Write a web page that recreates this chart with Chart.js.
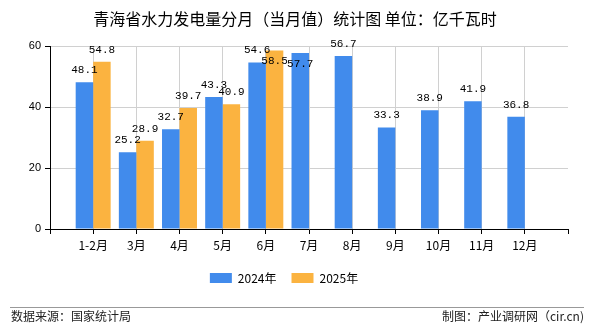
<!DOCTYPE html>
<html>
<head>
<meta charset="utf-8">
<script src="https://cdn.jsdelivr.net/npm/chart.js@4"></script>
<style>
  body { margin: 0; background: #fff; }
  #wrap { position: relative; width: 590px; height: 330px; overflow: hidden; }
  #chart { position: absolute; left: 0; top: 0; }
  .txt { position: absolute; font-family: "Noto Sans CJK SC", sans-serif; color: #222; white-space: nowrap; }
  #title { top: 8px; left: 0; width: 590px; text-align: center; font-size: 16px; line-height: 20px; color: #000; }
  #rule { position: absolute; left: 10px; top: 307px; width: 574px; height: 1px; background: #999; }
  #src { left: 11px; top: 308px; font-size: 12px; line-height: 16px; }
  #made { right: 6px; top: 308px; font-size: 12px; line-height: 16px; }
</style>
</head>
<body>
<div id="wrap">
  <canvas id="chart" width="590" height="330"></canvas>
  <div id="title" class="txt">青海省水力发电量分月（当月值）统计图 单位：亿千瓦时</div>
  <div id="rule"></div>
  <div id="src" class="txt">数据来源：国家统计局</div>
  <div id="made" class="txt">制图：产业调研网（cir.cn)</div>
</div>
<script>
// blank slots at both ends so the bars sit on the ticks
const months = ["", "1-2月", "3月", "4月", "5月", "6月", "7月", "8月", "9月", "10月", "11月", "12月", ""];
const y2024 = [null, 48.1, 25.2, 32.7, 43.3, 54.6, 57.7, 56.7, 33.3, 38.9, 41.9, 36.8, null];
const y2025 = [null, 54.8, 28.9, 39.7, 40.9, 58.5, null, null, null, null, null, null, null];
const yTicks = [0, 20, 40, 60];

const barLabels = {
  id: "barLabels",
  afterDatasetsDraw(chart) {
    const ctx = chart.ctx;
    ctx.save();
    ctx.font = "11px 'Liberation Mono', monospace";
    ctx.fillStyle = "#000";
    ctx.textAlign = "center";
    ctx.textBaseline = "middle";
    chart.data.datasets.forEach((ds, i) => {
      chart.getDatasetMeta(i).data.forEach((bar, j) => {
        const v = ds.data[j];
        if (v == null) return;
        let y = bar.y - 12;
        if (y < 44) y = bar.y + 11;
        ctx.fillText(v.toFixed(1), bar.x, y);
      });
    });
    ctx.restore();
  }
};

new Chart(document.getElementById("chart"), {
  type: "bar",
  data: {
    labels: months,
    datasets: [
      { label: "2024年", data: y2024, backgroundColor: "#418BEC" },
      { label: "2025年", data: y2025, backgroundColor: "#FBB340" }
    ]
  },
  options: {
    responsive: false,
    animation: false,
    layout: { padding: { top: 46, left: 0, right: 22, bottom: 36 } },
    datasets: { bar: { categoryPercentage: 0.81, barPercentage: 1.0 } },
    plugins: {
      title: { display: false },
      tooltip: { enabled: false },
      legend: {
        position: "bottom",
        labels: {
          boxWidth: 22, boxHeight: 10, padding: 15, color: "#000",
          font: { family: "'Noto Sans CJK SC'", size: 12 }
        }
      }
    },
    scales: {
      x: {
        offset: false,
        afterFit: s => { s.height = 28; },
        grid: {
          offset: false,
          color: ctx => (ctx.index === 0 || ctx.index === months.length - 1) ? "rgba(0,0,0,0)" : "#d0d0d0",
          tickColor: "#000", tickLength: 5
        },
        border: { color: "#000" },
        ticks: {
          color: "#000", padding: 4, autoSkip: false, maxRotation: 0,
          font: { family: "'Noto Sans CJK SC'", size: 12 }
        }
      },
      y: {
        min: 0, max: 60,
        afterFit: s => { s.width = 50; },
        afterBuildTicks: s => { s.ticks = yTicks.map(v => ({ value: v })); },
        grid: { color: "#d0d0d0", tickColor: "#000", tickLength: 5 },
        border: { color: "#000" },
        ticks: { color: "#000", padding: 4, font: { family: "'Liberation Sans'", size: 11 } }
      }
    }
  },
  plugins: [barLabels]
});
</script>
</body>
</html>
